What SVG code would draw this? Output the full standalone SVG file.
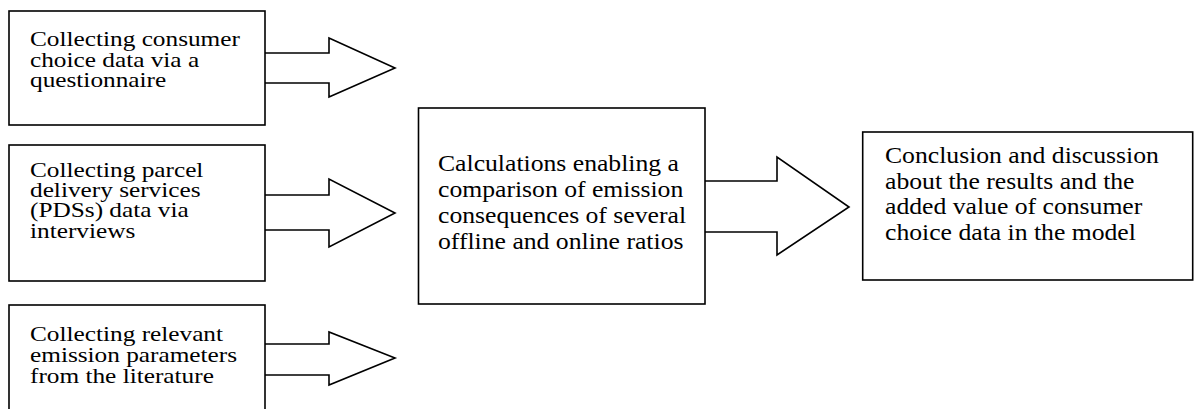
<svg xmlns="http://www.w3.org/2000/svg" width="1195" height="409" viewBox="0 0 1195 409">
<style>
.box{fill:#fff;stroke:#000;stroke-width:1.6}
.arr{fill:#fff;stroke:#000;stroke-width:1.6;stroke-linejoin:miter}
.t{font-family:"Liberation Serif","Times New Roman",serif;fill:#000}
.s{font-size:22px}
.l{font-size:24px}
</style>
<rect width="1195" height="409" fill="#fff"/>
<g id="connectors">
<polyline class="arr" points="265,53 329,53 329,38 395,68 329,97 329,83 265,83"/>
<polyline class="arr" points="265,195 329,195 329,179 395,213 329,247 329,230 265,230"/>
<polyline class="arr" points="265,344 329,344 329,332 395,358 329,385 329,375 265,375"/>
<polyline class="arr" points="705,181 777,181 777,157 849,207 777,255 777,232 705,232"/>
</g>
<g id="node1">
<rect class="box" x="9" y="11" width="256" height="114"/>
<g class="t s" transform="translate(30,0) scale(1.15,1)">
<text x="0" y="46">Collecting consumer</text>
<text x="0" y="66.7">choice data via a</text>
<text x="0" y="87">questionnaire</text>
</g>
</g>
<g id="node2">
<rect class="box" x="9" y="145" width="256" height="136"/>
<g class="t s" transform="translate(30,0) scale(1.15,1)">
<text x="0" y="176.7">Collecting parcel</text>
<text x="0" y="197">delivery services</text>
<text x="0" y="217.5">(PDSs) data via</text>
<text x="0" y="238">interviews</text>
</g>
</g>
<g id="node3">
<rect class="box" x="9" y="305" width="256" height="130"/>
<g class="t s" transform="translate(30,0) scale(1.15,1)">
<text x="0" y="341">Collecting relevant</text>
<text x="0" y="362">emission parameters</text>
<text x="0" y="383">from the literature</text>
</g>
</g>
<g id="node4">
<rect class="box" x="418.5" y="108" width="286.5" height="196"/>
<g class="t l" transform="translate(438,0) scale(1.07,1)">
<text x="0" y="170.7">Calculations enabling a</text>
<text x="0" y="196.7">comparison of emission</text>
<text x="0" y="222.7">consequences of several</text>
<text x="0" y="249">offline and online ratios</text>
</g>
</g>
<g id="node5">
<rect class="box" x="862.7" y="132" width="330" height="148"/>
<g class="t l" transform="translate(885,0) scale(1.07,1)">
<text x="0" y="163.5">Conclusion and discussion</text>
<text x="0" y="189">about the results and the</text>
<text x="0" y="214.5">added value of consumer</text>
<text x="0" y="240">choice data in the model</text>
</g>
</g>
</svg>
